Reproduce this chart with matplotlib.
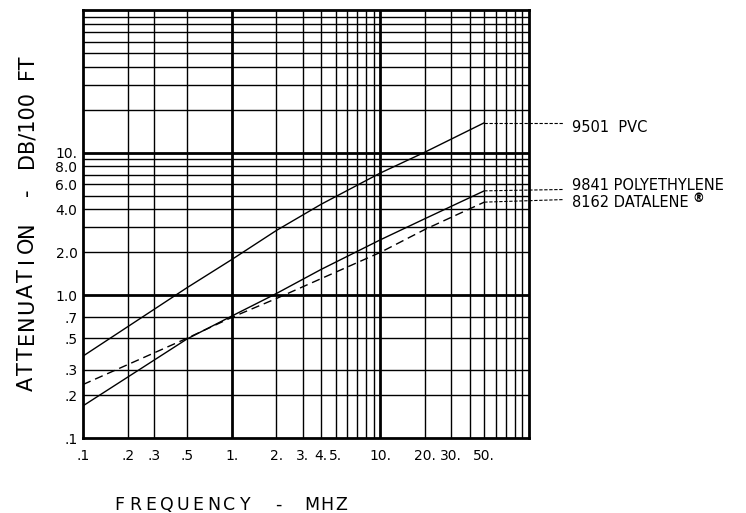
import matplotlib
matplotlib.use('Agg')
import matplotlib.pyplot as plt

# data (frequency in MHz, attenuation in dB/100 ft)
freq = [0.1, 0.5, 1, 2, 4, 10, 20, 50]
pvc = [0.375, 1.13, 1.78, 2.85, 4.35, 7.2, 10.1, 16.2]
poly = [0.168, 0.494, 0.715, 1.03, 1.52, 2.45, 3.45, 5.4]
datalene = [0.237, 0.50, 0.70, 0.95, 1.31, 2.0, 2.9, 4.5]

# grid lines of the log paper
x_thin = [0.2, 0.3, 0.5, 2, 3, 4, 5, 6, 7, 8, 9, 20, 30, 40, 50, 60, 70, 80, 90]
y_thin = [0.2, 0.3, 0.5, 0.7, 2, 3, 4, 5, 6, 7, 8, 9, 20, 30, 40, 50, 60, 70, 80, 90]
thick = [1, 10]

x_ticks = [0.1, 0.2, 0.3, 0.5, 1, 2, 3, 4, 5, 10, 20, 30, 50]
x_labels = ['.1', '.2', '.3', '.5', '1.', '2.', '3.', '4.', '5.', '10.', '20.', '30.', '50.']
y_ticks = [0.1, 0.2, 0.3, 0.5, 0.7, 1, 2, 4, 6, 8, 10]
y_labels = ['.1', '.2', '.3', '.5', '.7', '1.0', '2.0', '4.0', '6.0', '8.0', '10.']

# cable labels and the level where each leader ends on the right
labels = ['9501  PVC', '9841 POLYETHYLENE', '8162 DATALENE']
lead_y = [16.2, 5.52, 4.69]
lead_x = 170

W, H = 746, 513
fig = plt.figure(figsize=(W / 100, H / 100), dpi=100)
ax = fig.add_axes([83 / W, (H - 438) / H, 446 / W, 428 / H])
ax.set_xscale('log')
ax.set_yscale('log')
ax.set_xlim(0.1, 100)
ax.set_ylim(0.1, 100)

for v in x_thin:
    ax.axvline(v, color='black', lw=1.0, zorder=1)
for v in y_thin:
    ax.axhline(v, color='black', lw=1.0, zorder=1)
for v in thick:
    ax.axvline(v, color='black', lw=2.0, zorder=1)
    ax.axhline(v, color='black', lw=2.0, zorder=1)

for s in ax.spines.values():
    s.set_linewidth(2.0)

ax.plot(freq, pvc, color='black', lw=1.0, zorder=3)
ax.plot(freq, poly, color='black', lw=1.0, zorder=3)
ax.plot(freq, datalene, color='black', lw=1.0, linestyle=(0, (6, 3.5)), zorder=3)

# leaders to the labels on the right
ends = [pvc[-1], poly[-1], datalene[-1]]
for e, ly in zip(ends, lead_y):
    ax.plot([freq[-1], lead_x], [e, ly], color='black', lw=0.8,
            linestyle=(0, (3, 1.5)), clip_on=False)

dys = [-3.6, 3.2, -2.4]
txts = []
for lab, ly, dy in zip(labels, lead_y, dys):
    t = ax.annotate(lab, xy=(lead_x, ly), xytext=(6.3, dy), textcoords='offset points',
                    ha='left', va='center', fontsize=10.5, annotation_clip=False)
    txts.append(t)
ax.annotate('®', xy=(1, 0.8), xycoords=txts[2], xytext=(3, 0), textcoords='offset points',
            ha='left', va='center', fontsize=8.5, fontweight='bold')

ax.minorticks_off()
ax.set_xticks(x_ticks)
ax.set_xticklabels(x_labels)
ax.set_yticks(y_ticks)
ax.set_yticklabels(y_labels)
ax.tick_params(axis='both', length=0, labelsize=10)
ax.tick_params(axis='x', pad=8)
ax.tick_params(axis='y', pad=4)


def spaced(x0, y0, text, pitch, size, vertical=False):
    # draws the text one letter at a time so it gets the wide drafting-font spacing
    for i, ch in enumerate(text):
        if vertical:
            fig.text(x0 / W, 1 - (y0 - pitch * (i + 0.5)) / H, ch, rotation=90,
                     rotation_mode='anchor', ha='center', va='baseline', fontsize=size)
        else:
            fig.text((x0 + pitch * (i + 0.5)) / W, 1 - y0 / H, ch,
                     ha='center', va='baseline', fontsize=size)


# x axis title
spaced(111.7, 510, 'FREQUENCY', 15.7, 12.5)
spaced(271, 510, '-', 14, 12.5)
spaced(305, 510, 'MHZ', 14.4, 12.5)

# y axis title
spaced(33, 391.7, 'ATTENUATION', 15.45, 15, vertical=True)
spaced(33, 199, '-', 14, 15, vertical=True)
fig.text(33 / W, 1 - 130 / H, 'DB/100', rotation=90, rotation_mode='anchor',
         ha='center', va='baseline', fontsize=15)
fig.text(33 / W, 1 - 66.7 / H, 'FT', rotation=90, rotation_mode='anchor',
         ha='center', va='baseline', fontsize=15)

fig.savefig('out.png', dpi=100)
